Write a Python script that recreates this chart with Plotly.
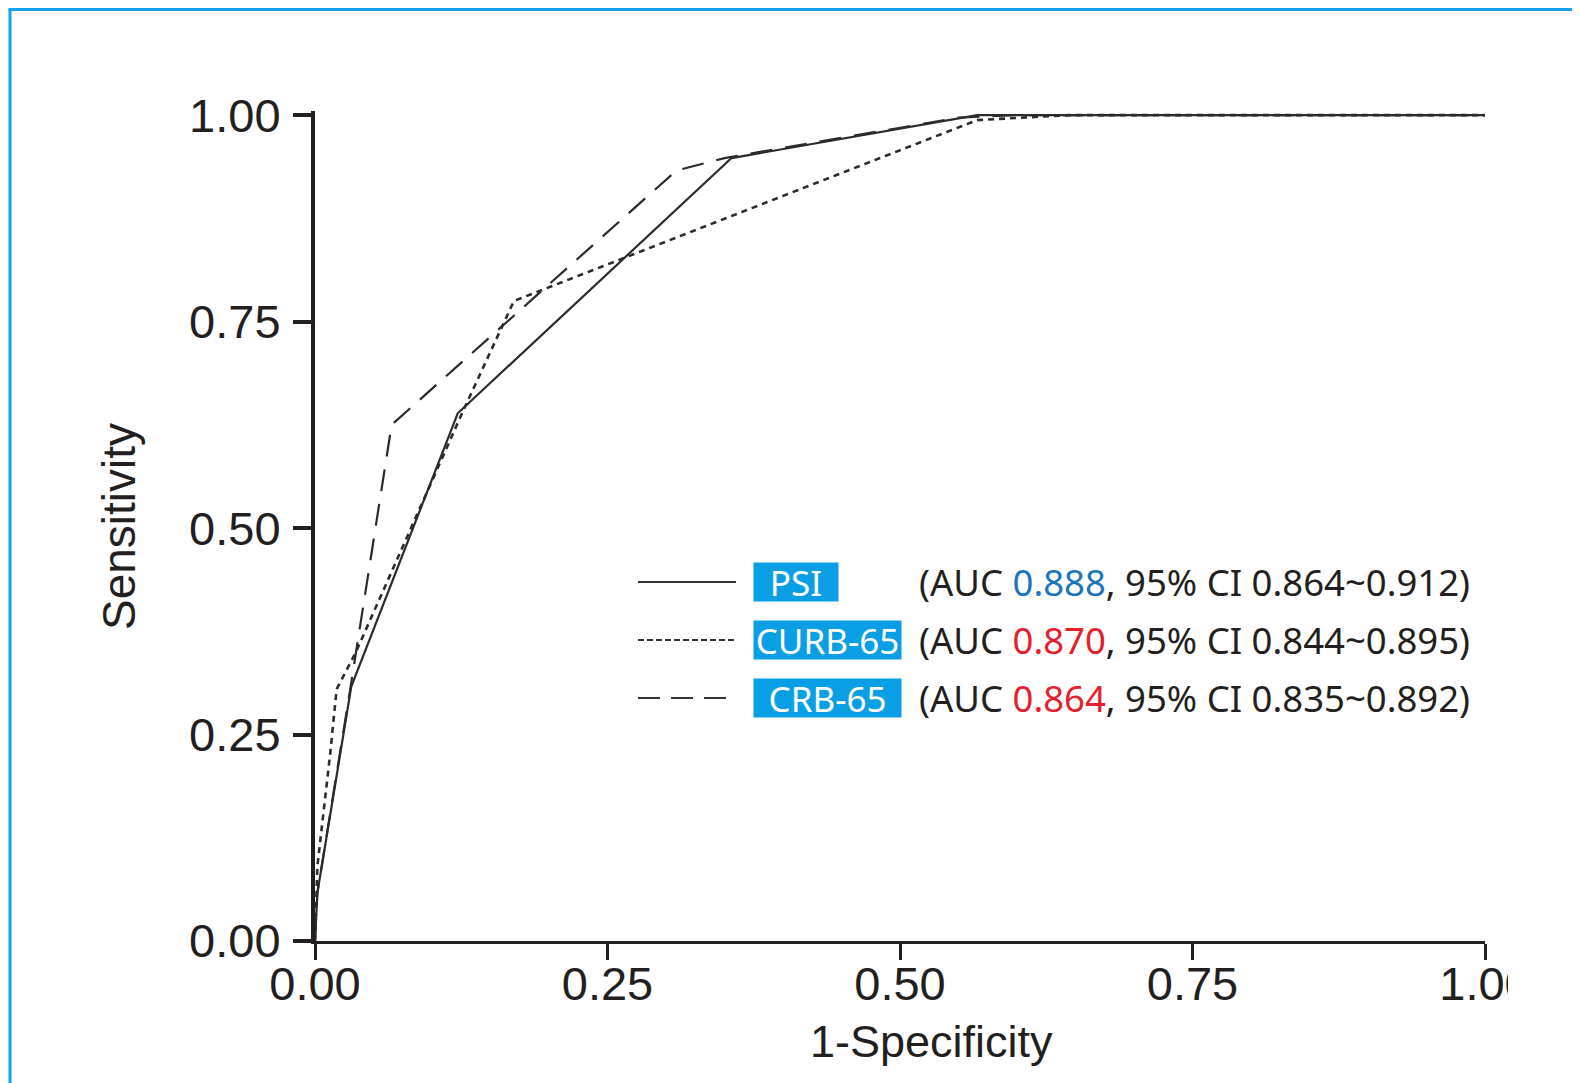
import plotly.graph_objects as go

# ---------------- data ----------------
psi_x = [0.0, 0.002, 0.031, 0.122, 0.356, 0.566, 1.0]
psi_y = [0.0, 0.058, 0.308, 0.639, 0.948, 1.0, 1.0]

curb_x = [0.0, 0.002, 0.013, 0.0185, 0.035, 0.126, 0.170, 0.566, 0.645, 1.0]
curb_y = [0.0, 0.09, 0.227, 0.305, 0.35, 0.64, 0.775, 0.994, 1.0, 1.0]

crb_x = [0.0, 0.002, 0.030, 0.0655, 0.309, 0.35, 0.55, 0.60, 1.0]
crb_y = [0.0, 0.058, 0.304, 0.625, 0.933, 0.948, 0.997, 1.0, 1.0]

series_names = ["PSI", "CURB-65", "CRB-65"]
auc_values = ["0.888", "0.870", "0.864"]
auc_colors = ["#1B75BC", "#E5202E", "#E5202E"]
ci_low = ["0.864", "0.844", "0.835"]
ci_high = ["0.912", "0.895", "0.892"]

tick_vals = [0, 0.25, 0.5, 0.75, 1.0]
tick_text = ["0.00", "0.25", "0.50", "0.75", "1.00"]

# ---------------- layout geometry ----------------
OFF = 8  # page body margin in the browser
W, H = 1580, 1083
L, R, T, B = 307, 103, 103, 150
PW = W - L - R
PH = H - T - B


def px(sx):
    """screen x pixel -> paper fraction"""
    return (sx - OFF - L) / PW


def py(sy):
    """screen y pixel -> paper fraction"""
    return (H - B - (sy - OFF)) / PH


INK = "#231F20"
LINE = "#2b2b2b"
BLUE_BOX = "#0A9FE4"
FRAME = "#16A2EA"

fig = go.Figure()

styles = ["solid", "6px,5px", "22px,13px"]
widths = [2.2, 2.6, 2.2]
for name, xs, ys, dash, w in zip(series_names, [psi_x, curb_x, crb_x],
                                 [psi_y, curb_y, crb_y], styles, widths):
    fig.add_trace(go.Scatter(x=xs, y=ys, mode="lines", name=name,
                             line=dict(color=LINE, width=w, dash=dash),
                             showlegend=False))

fig.update_layout(
    width=W, height=H,
    margin=dict(l=L, r=R, t=T, b=B),
    paper_bgcolor="white", plot_bgcolor="white",
    showlegend=False,
    xaxis=dict(range=[0, 1.0], tickvals=tick_vals, ticktext=tick_text,
               showgrid=False, zeroline=False, showline=True,
               linecolor=INK, linewidth=3, ticks="outside", ticklen=16,
               tickwidth=3, tickcolor=INK,
               tickfont=dict(family="Liberation Sans, Arial", size=47, color=INK),
               ticklabelstandoff=-16),
    yaxis=dict(range=[0, 1.005], tickvals=tick_vals, ticktext=tick_text,
               showgrid=False, zeroline=False, showline=True,
               linecolor=INK, linewidth=4, ticks="outside", ticklen=18,
               tickwidth=4, tickcolor=INK,
               tickfont=dict(family="Liberation Sans, Arial", size=47, color=INK),
               ticklabelstandoff=3),
)

# axis titles
fig.add_annotation(text="1-Specificity", xref="paper", yref="paper",
                   x=px(931), y=py(1041), xanchor="center", yanchor="middle",
                   showarrow=False,
                   font=dict(family="Liberation Sans, Arial", size=45, color=INK))
fig.add_annotation(text="Sensitivity", xref="paper", yref="paper",
                   x=px(119), y=py(527), xanchor="center", yanchor="middle",
                   textangle=-90, showarrow=False,
                   font=dict(family="Liberation Sans, Arial", size=46, color=INK))

# custom legend
row_y = [582, 640, 698]
leg_dash = ["solid", "6px,3px", "22px,11px"]
box_w = [84, 147, 147]
for i in range(3):
    fig.add_shape(type="line", xref="paper", yref="paper",
                  x0=px(638), x1=px(736), y0=py(row_y[i]), y1=py(row_y[i]),
                  line=dict(color="#333333", width=2, dash=leg_dash[i]))
    fig.add_annotation(text=series_names[i], xref="paper", yref="paper",
                       x=px(753), y=py(row_y[i]), xanchor="left", yanchor="middle",
                       showarrow=False, width=box_w[i], height=38,
                       align="center", valign="middle",
                       bgcolor=BLUE_BOX, borderpad=0,
                       font=dict(family="Noto Sans", size=35, color="white"))
    txt = ("(AUC <span style='color:%s'>%s</span>, 95%% CI %s~%s)"
           % (auc_colors[i], auc_values[i], ci_low[i], ci_high[i]))
    fig.add_annotation(text=txt, xref="paper", yref="paper",
                       x=px(917), y=py(row_y[i]), xanchor="left", yanchor="middle",
                       showarrow=False,
                       font=dict(family="Noto Sans", size=36.5, color=INK))

# crop of the original image on the right side (hides part of last tick label)
fig.add_shape(type="rect", xref="paper", yref="paper", layer="above",
              x0=px(1508), x1=px(1600), y0=py(1012), y1=py(950),
              fillcolor="white", line=dict(width=0))

# blue frame (left and top edges)
fig.add_shape(type="line", xref="paper", yref="paper", layer="above",
              x0=px(10), x1=px(10), y0=py(9), y1=py(1100),
              line=dict(color=FRAME, width=3))
fig.add_shape(type="line", xref="paper", yref="paper", layer="above",
              x0=px(8.5), x1=px(1600), y0=py(9.5), y1=py(9.5),
              line=dict(color=FRAME, width=3))

fig.write_html("out.html")
